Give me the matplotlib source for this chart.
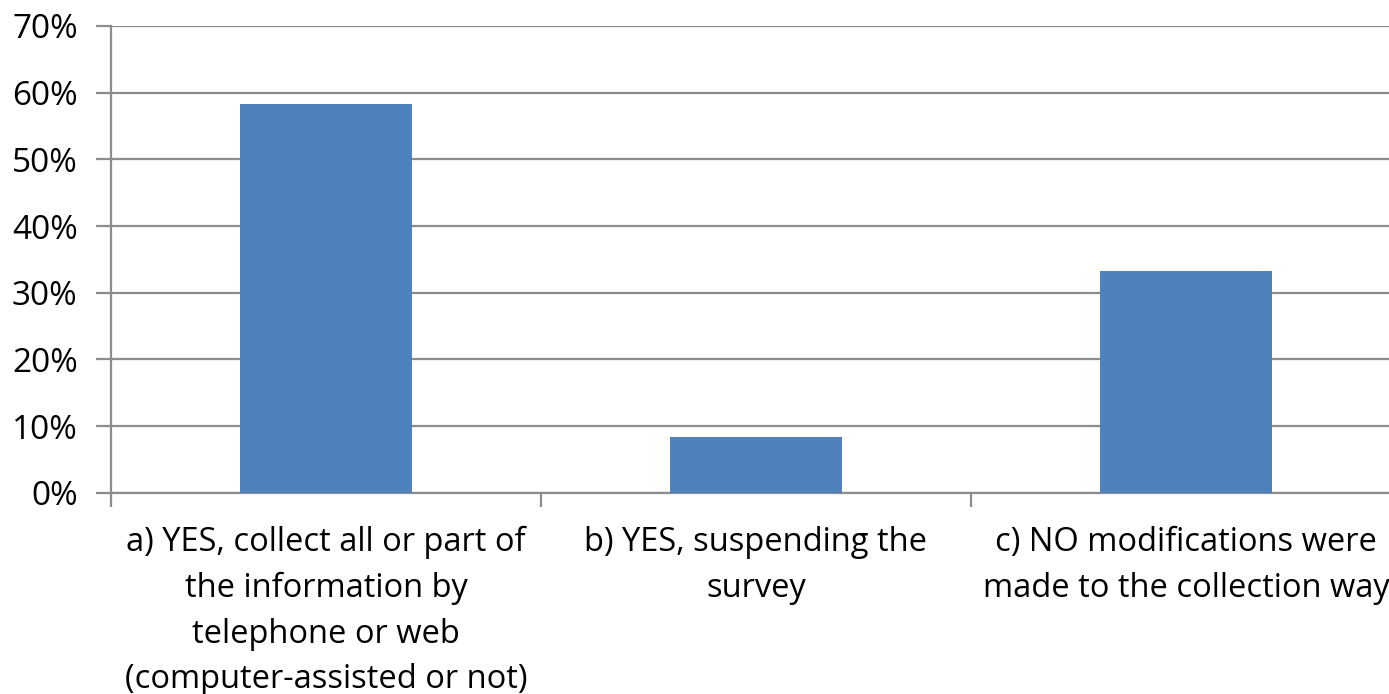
import matplotlib
matplotlib.use("Agg")
import matplotlib.pyplot as plt
from matplotlib.ticker import FixedLocator, PercentFormatter

categories = [
    "a) YES, collect all or part of\nthe information by\ntelephone or web\n(computer-assisted or not)",
    "b) YES, suspending the\nsurvey",
    "c) NO modifications were\nmade to the collection way",
]
values = [58.3, 8.3, 33.3]
yticks = [0, 10, 20, 30, 40, 50, 60, 70]

plt.rcParams['font.family'] = ['Open Sans', 'DejaVu Sans']

fig = plt.figure(figsize=(13.89, 6.94), dpi=100)
ax = fig.add_axes([111/1389, 1-492.7/694, 1290/1389, (492.7-26)/694])

x = list(range(len(categories)))
ax.bar(x, values, width=0.4, color="#4F81BD", zorder=3)

ax.set_xlim(-0.5, len(categories) - 0.5)
ax.set_ylim(0, 70)
ax.set_yticks(yticks)
ax.yaxis.set_major_formatter(PercentFormatter(decimals=0))
ax.grid(axis='y', color='#8c8c8c', linewidth=1.6, zorder=0)
ax.set_axisbelow(True)

for s in ['top', 'right']:
    ax.spines[s].set_visible(False)
for s in ['left', 'bottom']:
    ax.spines[s].set_color('#8c8c8c')
    ax.spines[s].set_linewidth(1.6)

ax.set_xticks(x)
ax.set_xticklabels(categories, fontsize=23.5, linespacing=1.5, ha='center', va='top')
ax.tick_params(axis='x', which='major', length=0, pad=24)
ax.xaxis.set_minor_locator(FixedLocator([i - 0.5 for i in range(len(categories) + 1)]))
ax.tick_params(axis='x', which='minor', length=10, width=1.6, color='#8c8c8c')
ax.tick_params(axis='y', length=11, width=1.6, color='#8c8c8c', labelsize=24, pad=13)

fig.savefig("out.png", dpi=100)
